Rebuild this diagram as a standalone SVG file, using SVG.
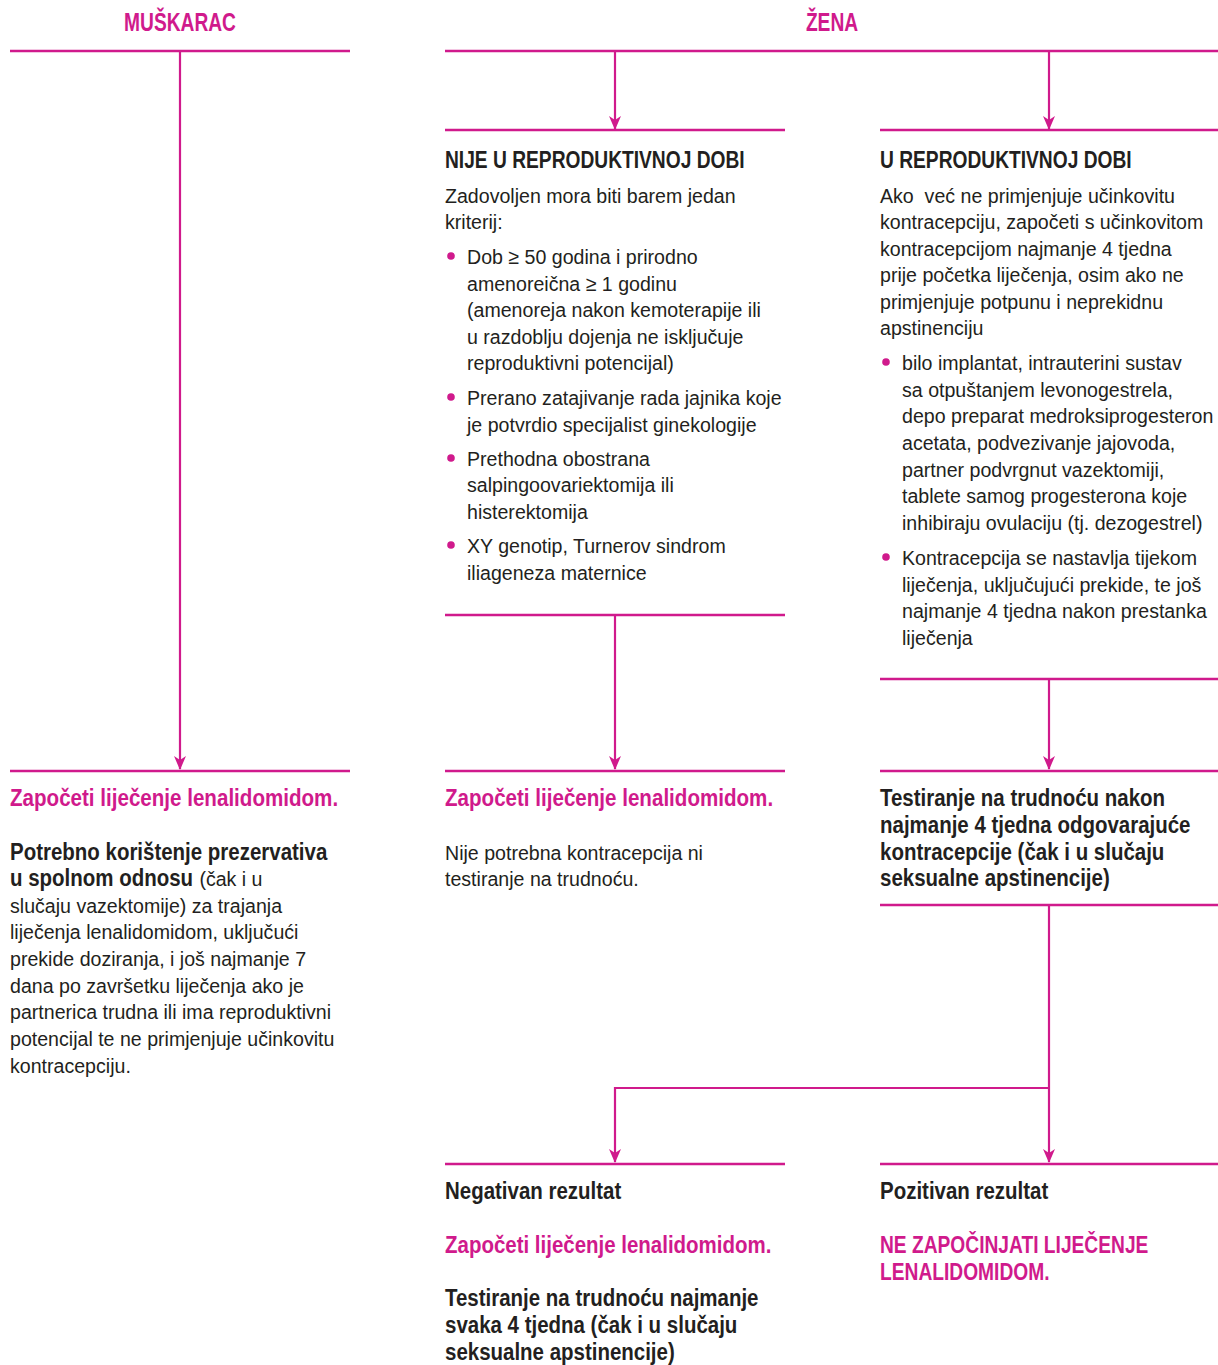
<svg xmlns="http://www.w3.org/2000/svg" width="1218" height="1365" viewBox="0 0 1218 1365">
<defs>
<marker id="ah" viewBox="0 0 14 12" refX="13" refY="6" markerWidth="14" markerHeight="12" markerUnits="userSpaceOnUse" orient="auto">
<path d="M0,0 L14,6 L0,12 L4,6 Z" fill="#D01A8C"/>
</marker>
<style>
text{font-family:"Liberation Sans",Arial,sans-serif;font-size:21px;fill:#231F20}
.b{font-weight:bold;font-size:23px}
.m{fill:#D01A8C;font-weight:bold;font-size:23px}
.h{font-size:25.5px;text-anchor:middle}
.rule{stroke:#D01A8C;stroke-width:2.4;fill:none}
.conn{stroke:#D01A8C;stroke-width:2.2;fill:none}
.dot{fill:#D01A8C}
</style>
</defs>
<rect width="1218" height="1365" fill="#fff"/>

<g id="connectors">
<path class="conn" d="M180,52 V769" marker-end="url(#ah)"/>
<path class="conn" d="M615,52 V129" marker-end="url(#ah)"/>
<path class="conn" d="M1049,52 V129" marker-end="url(#ah)"/>
<path class="conn" d="M615,616 V769" marker-end="url(#ah)"/>
<path class="conn" d="M1049,680 V769" marker-end="url(#ah)"/>
<path class="conn" d="M1049,906 V1162" marker-end="url(#ah)"/>
<path class="conn" d="M1049,1088 H615 V1162" marker-end="url(#ah)"/>
</g>

<g id="muskarac">
<text class="m h" transform="matrix(0.753,0,0,1,180,31)" x="0" y="0">MUŠKARAC</text>
<line class="rule" x1="10" y1="51" x2="350" y2="51"/>
</g>

<g id="zena">
<text class="m h" transform="matrix(0.753,0,0,1,832,31)" x="0" y="0">ŽENA</text>
<line class="rule" x1="445" y1="51" x2="1218" y2="51"/>
</g>

<g id="nije-reproduktivna">
<line class="rule" x1="445" y1="130" x2="785" y2="130"/>
<text class="b" transform="matrix(0.835,0,0,1,445,168)">NIJE U REPRODUKTIVNOJ DOBI</text>
<circle class="dot" cx="451" cy="256" r="3.8"/>
<circle class="dot" cx="451" cy="397" r="3.8"/>
<circle class="dot" cx="451" cy="458" r="3.8"/>
<circle class="dot" cx="451" cy="545" r="3.8"/>
<g transform="matrix(0.933,0,0,1,445,0)">
<text x="0" y="203">Zadovoljen mora biti barem jedan</text>
<text x="0" y="229">kriterij:</text>
<text x="23.6" y="264">Dob ≥ 50 godina i prirodno</text>
<text x="23.6" y="291">amenoreična ≥ 1 godinu</text>
<text x="23.6" y="317">(amenoreja nakon kemoterapije ili</text>
<text x="23.6" y="344">u razdoblju dojenja ne isključuje</text>
<text x="23.6" y="370">reproduktivni potencijal)</text>
<text x="23.6" y="405">Prerano zatajivanje rada jajnika koje</text>
<text x="23.6" y="432">je potvrdio specijalist ginekologije</text>
<text x="23.6" y="466">Prethodna obostrana</text>
<text x="23.6" y="492">salpingoovariektomija ili</text>
<text x="23.6" y="519">histerektomija</text>
<text x="23.6" y="553">XY genotip, Turnerov sindrom</text>
<text x="23.6" y="580">iliageneza maternice</text>
</g>
<line class="rule" x1="445" y1="615" x2="785" y2="615"/>
</g>

<g id="reproduktivna">
<line class="rule" x1="880" y1="130" x2="1218" y2="130"/>
<text class="b" transform="matrix(0.835,0,0,1,880,168)">U REPRODUKTIVNOJ DOBI</text>
<circle class="dot" cx="886" cy="362" r="3.8"/>
<circle class="dot" cx="886" cy="557" r="3.8"/>
<g transform="matrix(0.933,0,0,1,880,0)">
<text x="0" y="203" xml:space="preserve">Ako  već ne primjenjuje učinkovitu</text>
<text x="0" y="229">kontracepciju, započeti s učinkovitom</text>
<text x="0" y="256">kontracepcijom najmanje 4 tjedna</text>
<text x="0" y="282">prije početka liječenja, osim ako ne</text>
<text x="0" y="309">primjenjuje potpunu i neprekidnu</text>
<text x="0" y="335">apstinenciju</text>
<text x="23.6" y="370">bilo implantat, intrauterini sustav</text>
<text x="23.6" y="397">sa otpuštanjem levonogestrela,</text>
<text x="23.6" y="423">depo preparat medroksiprogesteron</text>
<text x="23.6" y="450">acetata, podvezivanje jajovoda,</text>
<text x="23.6" y="477">partner podvrgnut vazektomiji,</text>
<text x="23.6" y="503">tablete samog progesterona koje</text>
<text x="23.6" y="530">inhibiraju ovulaciju (tj. dezogestrel)</text>
<text x="23.6" y="565">Kontracepcija se nastavlja tijekom</text>
<text x="23.6" y="592">liječenja, uključujući prekide, te još</text>
<text x="23.6" y="618">najmanje 4 tjedna nakon prestanka</text>
<text x="23.6" y="645">liječenja</text>
</g>
<line class="rule" x1="880" y1="679" x2="1218" y2="679"/>
</g>

<g id="muskarac-lijecenje">
<line class="rule" x1="10" y1="771" x2="350" y2="771"/>
<text class="m" transform="matrix(0.895,0,0,1,10,806)">Započeti liječenje lenalidomidom.</text>
<text class="b" transform="matrix(0.89,0,0,1,10,860)">Potrebno korištenje prezervativa</text>
<text class="b" transform="matrix(0.89,0,0,1,10,886)">u spolnom odnosu</text>
<g transform="matrix(0.933,0,0,1,10,0)">
<text x="203" y="886">(čak i u</text>
<text x="0" y="913">slučaju vazektomije) za trajanja</text>
<text x="0" y="939">liječenja lenalidomidom, uključući</text>
<text x="0" y="966">prekide doziranja, i još najmanje 7</text>
<text x="0" y="993">dana po završetku liječenja ako je</text>
<text x="0" y="1019">partnerica trudna ili ima reproduktivni</text>
<text x="0" y="1046">potencijal te ne primjenjuje učinkovitu</text>
<text x="0" y="1073">kontracepciju.</text>
</g>
</g>

<g id="nije-lijecenje">
<line class="rule" x1="445" y1="771" x2="785" y2="771"/>
<text class="m" transform="matrix(0.895,0,0,1,445,806)">Započeti liječenje lenalidomidom.</text>
<g transform="matrix(0.933,0,0,1,445,0)">
<text x="0" y="860">Nije potrebna kontracepcija ni</text>
<text x="0" y="886">testiranje na trudnoću.</text>
</g>
</g>

<g id="testiranje">
<line class="rule" x1="880" y1="771" x2="1218" y2="771"/>
<g transform="matrix(0.89,0,0,1,880,0)">
<text class="b" x="0" y="806">Testiranje na trudnoću nakon</text>
<text class="b" x="0" y="833">najmanje 4 tjedna odgovarajuće</text>
<text class="b" x="0" y="860">kontracepcije (čak i u slučaju</text>
<text class="b" x="0" y="886">seksualne apstinencije)</text>
</g>
<line class="rule" x1="880" y1="905" x2="1218" y2="905"/>
</g>

<g id="negativan">
<line class="rule" x1="445" y1="1164" x2="785" y2="1164"/>
<g transform="matrix(0.89,0,0,1,445,0)">
<text class="b" x="0" y="1199">Negativan rezultat</text>
<text class="m" x="0" y="1253">Započeti liječenje lenalidomidom.</text>
<text class="b" x="0" y="1306">Testiranje na trudnoću najmanje</text>
<text class="b" x="0" y="1333">svaka 4 tjedna (čak i u slučaju</text>
<text class="b" x="0" y="1360">seksualne apstinencije)</text>
</g>
</g>

<g id="pozitivan">
<line class="rule" x1="880" y1="1164" x2="1218" y2="1164"/>
<text class="b" transform="matrix(0.89,0,0,1,880,1199)">Pozitivan rezultat</text>
<g transform="matrix(0.835,0,0,1,880,0)">
<text class="m" x="0" y="1253">NE ZAPOČINJATI LIJEČENJE</text>
<text class="m" x="0" y="1280">LENALIDOMIDOM.</text>
</g>
</g>
</svg>
